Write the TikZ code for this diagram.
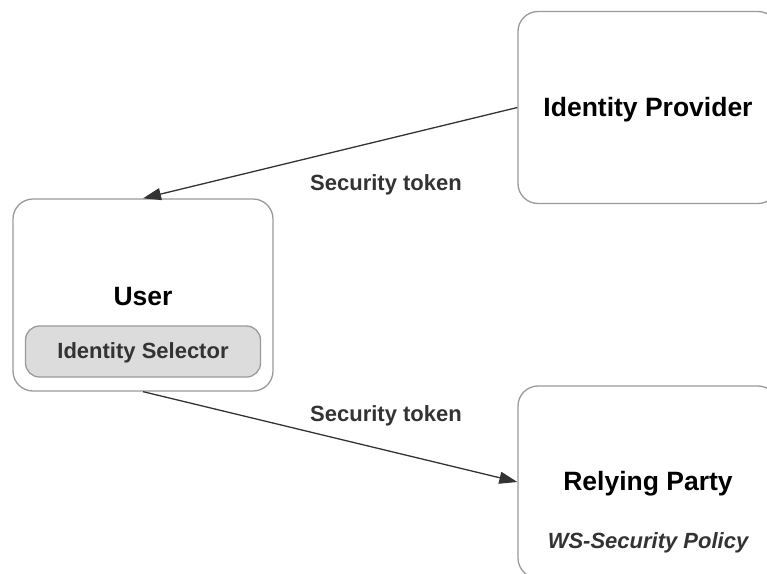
\documentclass[tikz,border=0pt]{standalone}
\usepackage{fontspec}
\setmainfont{Liberation Sans}
\usetikzlibrary{arrows.meta}
\definecolor{boxline}{HTML}{9A9A9A}
\definecolor{ink}{HTML}{333333}
\definecolor{selfill}{HTML}{DCDCDC}
\tikzset{
  party/.style={draw=boxline, line width=1.3pt, rounded corners=20pt, fill=white,
    minimum width=260pt, minimum height=192pt, inner sep=0pt},
  partyname/.style={font=\fontsize{26.5}{30}\selectfont\bfseries, text=black, inner sep=0pt},
  selector/.style={draw=boxline, line width=1.3pt, rounded corners=14pt, fill=selfill,
    minimum width=235pt, minimum height=51pt, inner sep=0pt},
  flowlabel/.style={font=\fontsize{22}{26}\selectfont\bfseries, text=ink, inner sep=0pt},
  policy/.style={font=\fontsize{22}{26}\selectfont\bfseries\itshape, text=ink, inner sep=0pt},
  flow/.style={draw=ink, line width=1.3pt, -{Triangle[length=18pt,width=12pt]}}
}
\begin{document}
\begin{tikzpicture}[x=1pt,y=-1pt]
  \useasboundingbox (0,0) rectangle (767,573);
  \clip (0,0) rectangle (767,573);

  % the three parties
  \node[party] (idp) at (648,107.5) {};
  \node[party] (user) at (143,295) {};
  \node[party] (rp) at (648,482) {};

  % names and inner parts
  \node[partyname] (idplbl) at (648,109.5) {Identity Provider};
  \node[partyname] (userlbl) at (143,297) {User};
  \node[selector] (sel) at (143,351.5) {};
  \node[flowlabel] (sellbl) at (143,353) {Identity Selector};
  \node[partyname] (rplbl) at (648,484) {Relying Party};
  \node[policy] (pol) at (648,542.5) {WS-Security Policy};

  % token flows
  \draw[flow] (idp.west) -- (user.north);
  \draw[flow] (user.south) -- (rp.west);

  \node[flowlabel] (tok1) at (386,184.5) {Security token};
  \node[flowlabel] (tok2) at (386,415.5) {Security token};
\end{tikzpicture}
\end{document}
